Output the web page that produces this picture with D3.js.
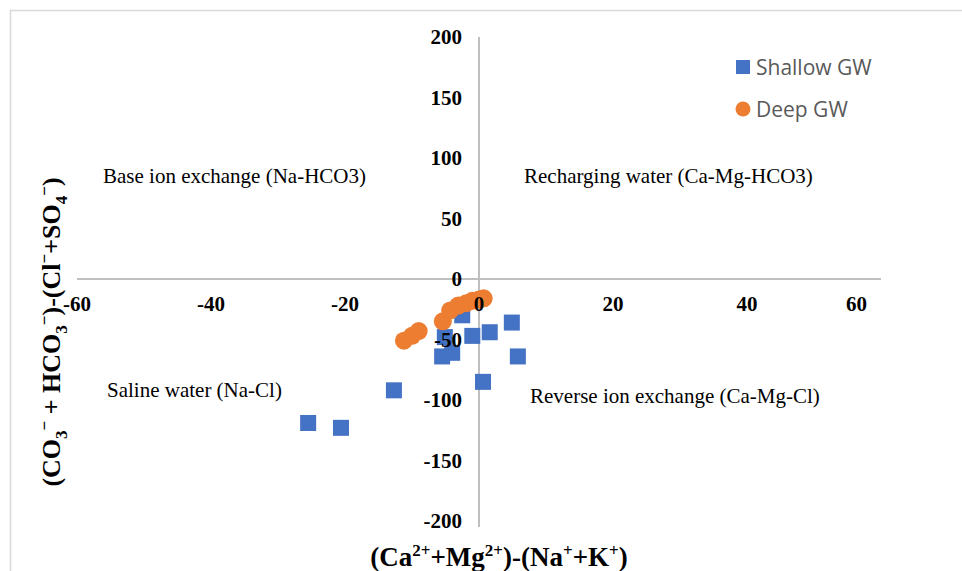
<!DOCTYPE html>
<html><head><meta charset="utf-8">
<script src="https://cdn.jsdelivr.net/npm/d3@7"></script>
<style>body{margin:0;background:#fff}svg{display:block}</style>
</head><body>
<svg id="c" width="962" height="571"></svg>
<script>
const shallowX = [-25.5,-20.6,-12.7,0.6,-5.5,-4.0,-5.1,-1.0,1.6,4.9,5.8,-2.5];
const shallowY = [-119,-123,-92,-85,-64,-61,-48,-47,-44,-36,-64,-30];
const deepX = [-11.2,-10.0,-9.0,-5.4,-4.3,-3.1,-1.9,-1.0,0,0.7];
const deepY = [-51,-47,-43,-35,-26,-22,-20,-18,-17,-16];
const xTicks = [-60,-40,-20,0,20,40,60];
const yTicks = [200,150,100,50,0,-50,-100,-150,-200];
const seriesNames = ["Shallow GW","Deep GW"];
const regionLabels = ["Base ion exchange (Na-HCO3)","Recharging water (Ca-Mg-HCO3)","Saline water (Na-Cl)","Reverse ion exchange (Ca-Mg-Cl)"];

const svg = d3.select("#c");
const x = d3.scaleLinear().domain([-60,60]).range([77,881]);
const y = d3.scaleLinear().domain([-200,200]).range([521,37]);

svg.append("rect").attr("x",10.5).attr("y",10.5).attr("width",1000).attr("height",1000)
  .attr("fill","none").attr("stroke","#d9d9d9").attr("stroke-width",1.5);

// axes lines
svg.append("line").attr("x1",x(-60)).attr("x2",x(60)).attr("y1",y(0)).attr("y2",y(0))
  .attr("stroke","#bfbfbf").attr("stroke-width",2);
svg.append("line").attr("x1",x(0)).attr("x2",x(0)).attr("y1",y(200)).attr("y2",y(-200)+6)
  .attr("stroke","#bfbfbf").attr("stroke-width",2);

// points
const g = svg.append("g");
g.selectAll("rect.s").data(shallowX.map((v,i)=>[v,shallowY[i]])).join("rect")
  .attr("class","s").attr("x",d=>x(d[0])-8).attr("y",d=>y(d[1])-8)
  .attr("width",16).attr("height",16).attr("fill","#4472C4");
g.selectAll("circle.d").data(deepX.map((v,i)=>[v,deepY[i]])).join("circle")
  .attr("class","d").attr("cx",d=>x(d[0])).attr("cy",d=>y(d[1]))
  .attr("r",9).attr("fill","#ED7D31");

// tick labels
const tf = "'Liberation Serif','Times New Roman',serif";
svg.selectAll("text.xt").data(xTicks).join("text").attr("class","xt")
  .attr("x",(d,i)=> i===xTicks.length-1 ? x(d)-14 : x(d)).attr("y",y(0)+32)
  .attr("text-anchor",(d,i)=> i===xTicks.length-1 ? "end" : "middle")
  .attr("font-family",tf).attr("font-weight","bold").attr("font-size",21).text(d=>d);
svg.selectAll("text.yt").data(yTicks).join("text").attr("class","yt")
  .attr("x",x(0)-17).attr("y",d=>y(d)+7).attr("text-anchor","end")
  .attr("font-family",tf).attr("font-weight","bold").attr("font-size",21).text(d=>d);

// region labels
const rl = [[103,183],[524,183],[107,397],[530,403]];
regionLabels.forEach((t,i)=>{
  svg.append("text").attr("x",rl[i][0]).attr("y",rl[i][1])
    .attr("font-family",tf).attr("font-size",21).attr("fill","#000").text(t);
});

// legend
const lf = "'Open Sans','Liberation Sans',sans-serif";
svg.append("rect").attr("x",736).attr("y",60).attr("width",14).attr("height",14).attr("fill","#4472C4");
svg.append("text").attr("x",756).attr("y",75).attr("font-family",lf).attr("font-size",21).attr("fill","#595959").text(seriesNames[0]);
svg.append("circle").attr("cx",743).attr("cy",109).attr("r",7.5).attr("fill","#ED7D31");
svg.append("text").attr("x",756).attr("y",117).attr("font-family",lf).attr("font-size",21).attr("fill","#595959").text(seriesNames[1]);

// x axis title
const xt = svg.append("text").attr("x",499).attr("y",566).attr("text-anchor","middle")
  .attr("font-family",tf).attr("font-weight","bold").attr("font-size",27);
xt.append("tspan").text("(Ca");
xt.append("tspan").attr("font-size",17).attr("dy",-10).text("2+");
xt.append("tspan").attr("dy",10).text("+Mg");
xt.append("tspan").attr("font-size",17).attr("dy",-10).text("2+");
xt.append("tspan").attr("dy",10).text(")-(Na");
xt.append("tspan").attr("font-size",17).attr("dy",-10).text("+");
xt.append("tspan").attr("dy",10).text("+K");
xt.append("tspan").attr("font-size",17).attr("dy",-10).text("+");
xt.append("tspan").attr("dy",10).text(")");

// y axis title
const yt = svg.append("text").attr("transform","translate(60,332) rotate(-90)").attr("text-anchor","middle")
  .attr("font-family",tf).attr("font-weight","bold").attr("font-size",26);
yt.append("tspan").text("(CO");
yt.append("tspan").attr("font-size",17).attr("dy",7).text("3");
yt.append("tspan").attr("font-size",17).attr("dy",-17).text("−");
yt.append("tspan").attr("dy",10).text(" + HCO");
yt.append("tspan").attr("font-size",17).attr("dy",7).text("3");
yt.append("tspan").attr("font-size",17).attr("dy",-17).text("−");
yt.append("tspan").attr("dy",10).text(")-(Cl");
yt.append("tspan").attr("font-size",17).attr("dy",-10).text("−");
yt.append("tspan").attr("dy",10).text("+SO");
yt.append("tspan").attr("font-size",17).attr("dy",7).text("4");
yt.append("tspan").attr("font-size",17).attr("dy",-17).text("−");
yt.append("tspan").attr("dy",10).text(")");
</script>
</body></html>
